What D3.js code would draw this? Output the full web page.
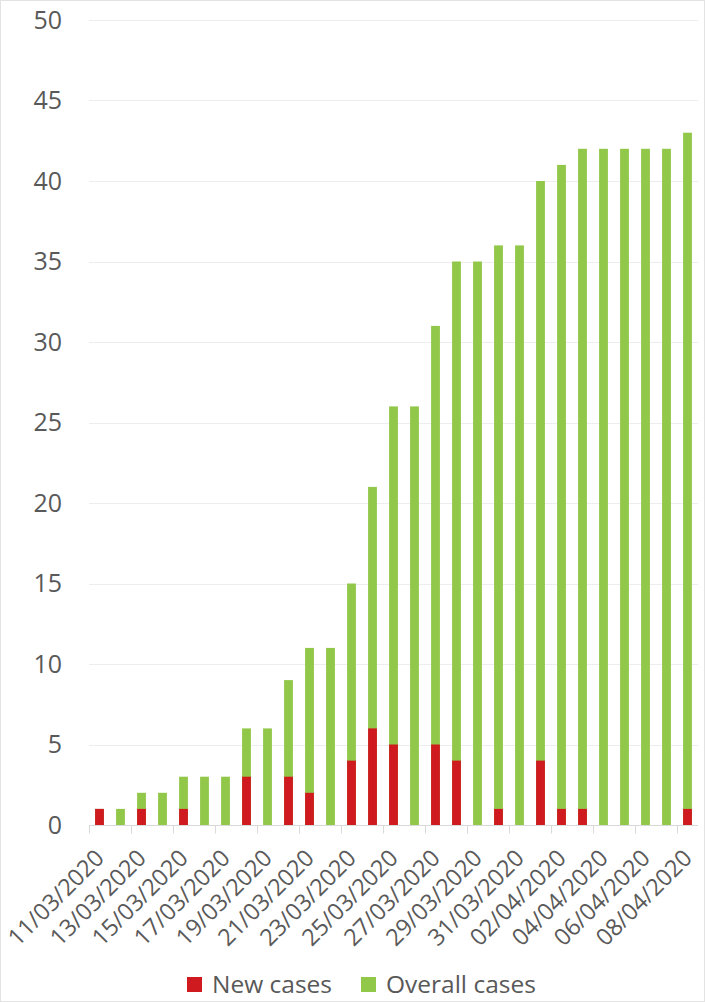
<!DOCTYPE html>
<html>
<head>
<meta charset="utf-8">
<script src="https://cdn.jsdelivr.net/npm/d3@7"></script>
<style>
  html, body { margin: 0; padding: 0; background: #fff; }
  #chart { width: 705px; height: 1002px; }
  text { font-family: "Open Sans", "Noto Sans", sans-serif; fill: #595959; }
</style>
</head>
<body>
<div id="chart"></div>
<script>
// ------- data -------
const dates = [
  "11/03/2020","12/03/2020","13/03/2020","14/03/2020","15/03/2020","16/03/2020","17/03/2020",
  "18/03/2020","19/03/2020","20/03/2020","21/03/2020","22/03/2020","23/03/2020","24/03/2020",
  "25/03/2020","26/03/2020","27/03/2020","28/03/2020","29/03/2020","30/03/2020","31/03/2020",
  "01/04/2020","02/04/2020","03/04/2020","04/04/2020","05/04/2020","06/04/2020","07/04/2020",
  "08/04/2020"
];
const newCases     = [1,0,1,0,1,0,0,3,0,3,2,0,4,6,5,0,5,4,0,1,0,4,1,1,0,0,0,0,1];
const overallCases = [1,1,2,2,3,3,3,6,6,9,11,11,15,21,26,26,31,35,35,36,36,40,41,42,42,42,42,42,43];
const yTicks = [0,5,10,15,20,25,30,35,40,45,50];
const seriesNames = ["New cases", "Overall cases"];

const RED = "#CF1B20";
const GREEN = "#92C84A";

(() => {
  const width = 705, height = 1002;
  const margin = { top: 20, right: 7, bottom: 177, left: 89 };

  const svg = d3.select("#chart").append("svg")
    .attr("width", width).attr("height", height);

  // outer frame
  svg.append("rect")
    .attr("x", 0.5).attr("y", 0.5)
    .attr("width", width - 1).attr("height", height - 1)
    .attr("fill", "#fff").attr("stroke", "#E3E3E3");

  const x = d3.scaleBand()
    .domain(dates)
    .range([margin.left, width - margin.right])
    .paddingInner(0.58)
    .paddingOuter(0.29);

  const y = d3.scaleLinear()
    .domain([0, 50])
    .range([height - margin.bottom, margin.top]);

  // gridlines
  svg.append("g")
    .selectAll("line")
    .data(yTicks.filter(d => d > 0))
    .join("line")
    .attr("x1", margin.left).attr("x2", width - margin.right)
    .attr("y1", d => Math.round(y(d)) + 0.5).attr("y2", d => Math.round(y(d)) + 0.5)
    .attr("stroke", "#EDEDED");

  // y labels
  svg.append("g")
    .selectAll("text")
    .data(yTicks)
    .join("text")
    .attr("x", 62).attr("y", d => y(d))
    .attr("dy", "0.35em")
    .attr("text-anchor", "end")
    .style("font-size", "25px")
    .text(d => d);

  // bars: overall behind, new in front
  svg.append("g")
    .selectAll("rect")
    .data(dates)
    .join("rect")
    .attr("x", d => x(d))
    .attr("y", (d, i) => y(overallCases[i]))
    .attr("width", x.bandwidth())
    .attr("height", (d, i) => y(0) - y(overallCases[i]))
    .attr("fill", GREEN);

  svg.append("g")
    .selectAll("rect")
    .data(dates)
    .join("rect")
    .attr("x", d => x(d))
    .attr("y", (d, i) => y(newCases[i]))
    .attr("width", x.bandwidth())
    .attr("height", (d, i) => y(0) - y(newCases[i]))
    .attr("fill", RED);

  // axis line + ticks every two categories
  const y0 = Math.round(y(0)) + 0.5;
  const step = x.step();
  const gap = (step - x.bandwidth()) / 2;
  svg.append("line")
    .attr("x1", margin.left).attr("x2", width - margin.right)
    .attr("y1", y0).attr("y2", y0)
    .attr("stroke", "#D9D9D9");

  const labelled = dates.filter((d, i) => i % 2 === 0);
  svg.append("g")
    .selectAll("line")
    .data(labelled)
    .join("line")
    .attr("x1", d => Math.round(x(d) - gap) + 0.5)
    .attr("x2", d => Math.round(x(d) - gap) + 0.5)
    .attr("y1", y0).attr("y2", y0 + 8)
    .attr("stroke", "#D9D9D9");

  // rotated date labels
  svg.append("g")
    .selectAll("text")
    .data(labelled)
    .join("text")
    .attr("transform", d => `translate(${x(d) + x.bandwidth() / 2 + 6},${y0 + 34}) rotate(-45)`)
    .attr("text-anchor", "end")
    .style("font-size", "23.4px")
    .text(d => d);

  // legend
  const legend = svg.append("g").attr("transform", `translate(187, 977)`);
  const colors = [RED, GREEN];
  const offsets = [0, 174];
  seriesNames.forEach((name, i) => {
    const row = legend.append("g").attr("transform", `translate(${offsets[i]},0)`);
    row.append("rect")
      .attr("width", 15).attr("height", 15)
      .attr("fill", colors[i]);
    row.append("text")
      .attr("x", 25).attr("y", 16)
      .style("font-size", "24.5px")
      .text(name);
  });
})();
</script>
</body>
</html>
